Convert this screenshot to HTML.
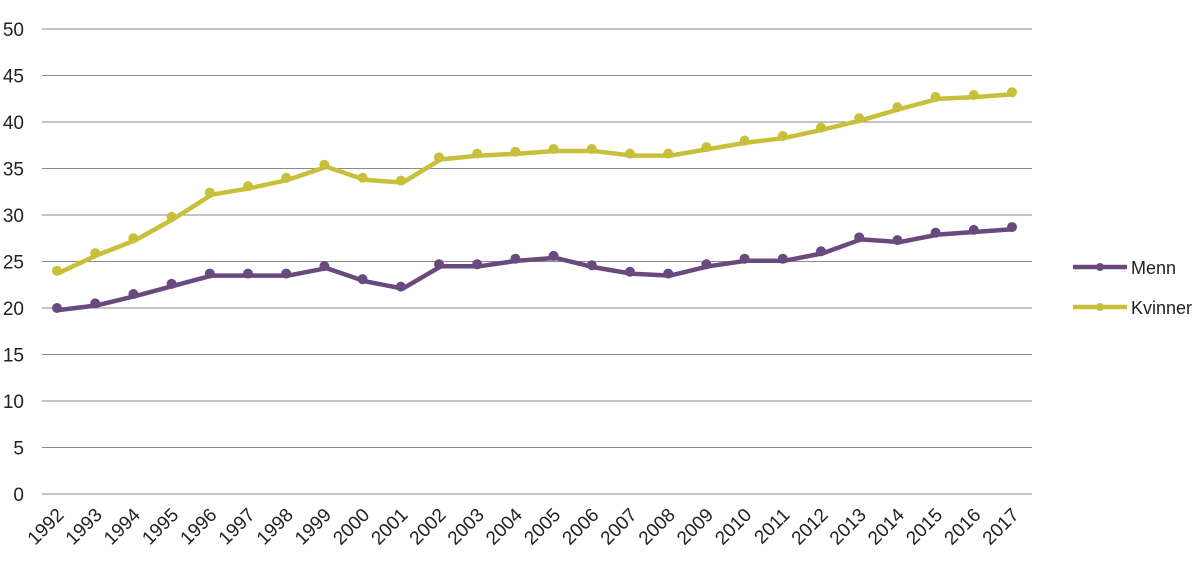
<!DOCTYPE html>
<html><head><meta charset="utf-8"><style>
body{margin:0;background:#fff;}
svg text{font-family:"Liberation Sans",Arial,sans-serif;fill:#222;}
</style></head><body>
<svg id="chart" width="1200" height="573" xmlns="http://www.w3.org/2000/svg">
<g id="grid"></g>
<g id="yticks"></g>
<g id="xticks"></g>
<g id="series"></g>
<g>
<g>
<line x1="1073" y1="267" x2="1127" y2="267" stroke="#6a4a7e" stroke-width="4.5"/>
<circle cx="1100" cy="267" r="4" fill="#6a4a7e"/>
<text x="1131" y="274" font-size="18">Menn</text></g>
<g>
<line x1="1073" y1="307" x2="1127" y2="307" stroke="#c8c03a" stroke-width="4.5"/>
<circle cx="1100" cy="307" r="4" fill="#c8c03a"/>
<text x="1131" y="314" font-size="18">Kvinner</text></g>
</g>
</svg>
<script>
const years=[1992,1993,1994,1995,1996,1997,1998,1999,2000,2001,2002,2003,2004,2005,2006,2007,2008,2009,2010,2011,2012,2013,2014,2015,2016,2017];
const menn=[20.0,20.5,21.5,22.6,23.7,23.7,23.7,24.5,23.1,22.3,24.7,24.7,25.3,25.6,24.6,23.9,23.7,24.7,25.3,25.3,26.1,27.6,27.3,28.1,28.4,28.7];
const kvinner=[24.0,25.9,27.5,29.8,32.4,33.1,34.0,35.4,34.0,33.7,36.2,36.6,36.8,37.1,37.1,36.6,36.6,37.3,38.0,38.5,39.4,40.4,41.6,42.7,42.9,43.2];
const yTicks=[0,5,10,15,20,25,30,35,40,45,50];
const NS="http://www.w3.org/2000/svg";
function X(i){return 57+i*(1012-57)/(years.length-1);}
function Y(v){return 494-v*(494-29)/50;}
function mk(tag,attrs,parent){const e=document.createElementNS(NS,tag);for(const k in attrs)e.setAttribute(k,attrs[k]);parent.appendChild(e);return e;}
const grid=document.getElementById('grid'),yt=document.getElementById('yticks'),xt=document.getElementById('xticks'),ser=document.getElementById('series');
yTicks.forEach(t=>{
 const l=mk('line',{x1:42,x2:1032,y1:Y(t),y2:Y(t),stroke:'#8a8a8a','stroke-width':1},grid);
 
 
 const tx=mk('text',{x:24,y:Y(t)+7,'font-size':19,'text-anchor':'end'},yt);tx.textContent=t;
 
 
});
years.forEach((y,i)=>{
 const x=X(i)+8,yy=516;
 const tx=mk('text',{x:x,y:yy,'font-size':19,'text-anchor':'end',transform:`rotate(-45 ${x} ${yy})`},xt);tx.textContent=y;
 
 
});
function draw(vals,color,name){
 const p=mk('polyline',{points:vals.map((v,i)=>X(i)+2+','+(Y(v)+2)).join(' '),fill:'none',stroke:color,'stroke-width':4.5,'stroke-linejoin':'round'},ser);
 
 
 vals.forEach((v,i)=>{
  const c=mk('circle',{cx:X(i),cy:Y(v),r:5,fill:color},ser);
  
  
 });
}
draw(menn,'#6a4a7e','menn');
draw(kvinner,'#c8c03a','kvinner');
</script>
</body></html>
